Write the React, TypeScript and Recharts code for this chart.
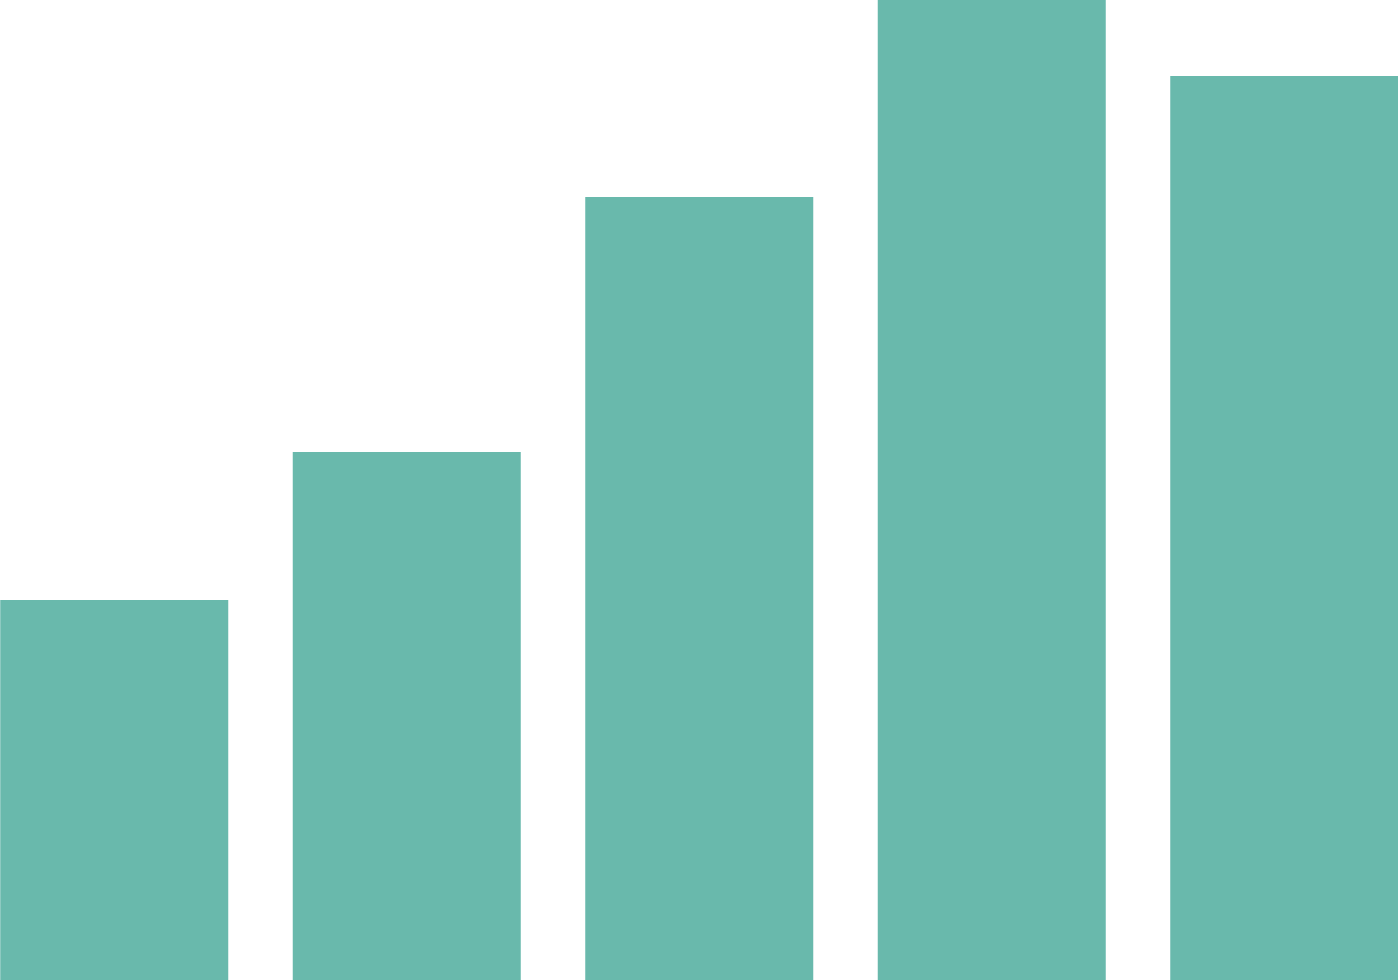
import React from "react";
import { BarChart, Bar, XAxis, YAxis } from "recharts";

const categories = ["A", "B", "C", "D", "E"];
const values = [380, 528, 783, 980, 904];

const data = categories.map((c, i) => ({ name: c, value: values[i] }));

export default function App() {
  return (
    <div style={{ position: "fixed", left: 0, top: 0, width: 1398, height: 980, overflow: "hidden", background: "#ffffff" }}>
      <div style={{ position: "absolute", left: -32.25, top: 0 }}>
        <BarChart
          width={1462.5}
          height={980}
          data={data}
          margin={{ top: 0, right: 0, bottom: 0, left: 0 }}
          barCategoryGap={32.25}
        >
          <XAxis dataKey="name" hide />
          <YAxis hide domain={[0, 980]} />
          <Bar dataKey="value" fill="#69b9ac" isAnimationActive={false} />
        </BarChart>
      </div>
    </div>
  );
}
